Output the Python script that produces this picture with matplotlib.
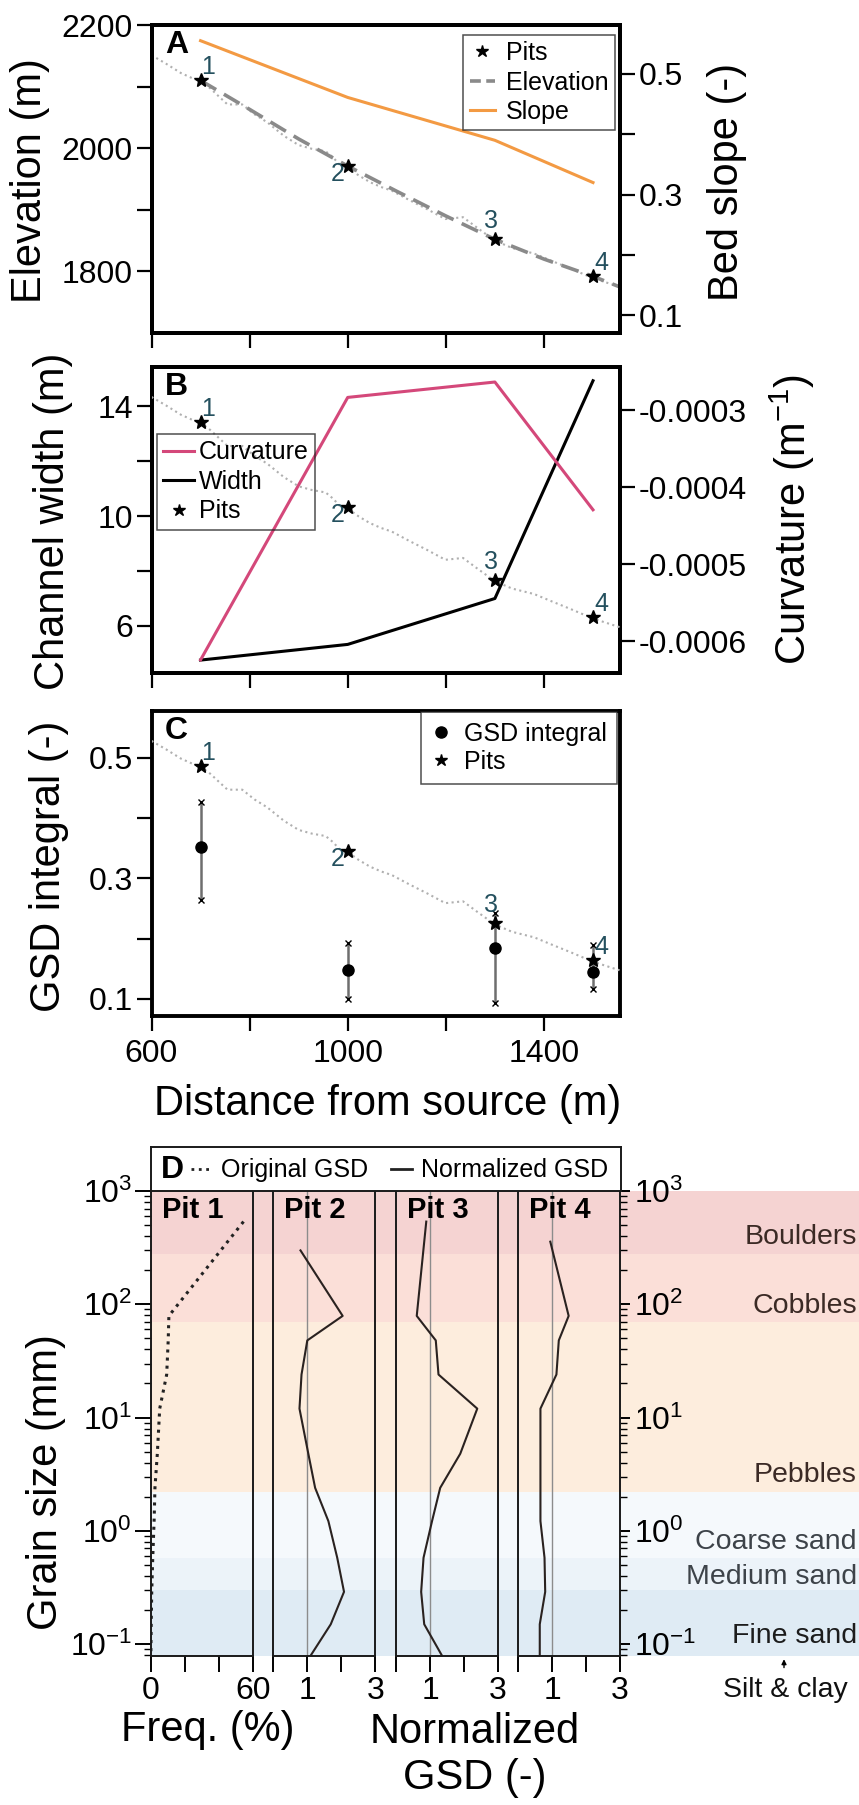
import matplotlib
matplotlib.use("Agg")
import matplotlib.pyplot as plt
from matplotlib.lines import Line2D
from matplotlib.ticker import NullFormatter, LogLocator
import matplotlib.transforms as mtransforms

plt.rcParams['font.family'] = ['Liberation Sans', 'DejaVu Sans']
plt.rcParams['mathtext.default'] = 'regular'
plt.rcParams['axes.unicode_minus'] = False

# ---- data: pits along the channel ----
pit_dist = [700, 1000, 1300, 1500]
pit_elev = [2110, 1971, 1852, 1792]
pit_names = ["1", "2", "3", "4"]

# raw long profile (dotted background line)
profile_dist = [600, 630, 660, 685, 700, 720, 740, 755, 785, 810, 836, 870, 900, 927,
                955, 970, 985, 1000, 1022, 1045, 1068, 1090, 1125, 1162, 1199, 1235,
                1267, 1300, 1335, 1380, 1416, 1453, 1500, 1554]
profile_elev = [2151, 2137, 2122, 2113, 2109, 2097, 2082, 2071, 2071, 2055, 2042, 2020,
                2005, 1999, 1995, 1985, 1972, 1969, 1956, 1945, 1937, 1931, 1916, 1901,
                1885, 1888, 1869, 1850, 1838, 1829, 1817, 1805, 1789, 1775]

# smoothed elevation (dashed)
smooth_dist = [700, 800, 900, 1000, 1100, 1200, 1300, 1400, 1500, 1554]
smooth_elev = [2110, 2063, 2015, 1971, 1930, 1890, 1852, 1820, 1792, 1775]

bed_slope = [0.555, 0.461, 0.390, 0.320]
chan_width = [4.76, 5.33, 7.0, 14.92]
curvature = [-0.000624, -0.000283, -0.000263, -0.000429]

gsd_int = [0.352, 0.148, 0.184, 0.145]
gsd_low = [0.264, 0.100, 0.093, 0.117]
gsd_high = [0.426, 0.192, 0.243, 0.190]

# ---- data: panel D grain size distributions ----
grain_top = [537, 299, 537, 357]
grain_sizes = [79, 48, 24, 12, 4.8, 2.4, 1.22, 0.58, 0.29, 0.15, 0.0795]
freq_pit1 = [54.6, 10.7, 10.3, 9.4, 5.3, 3.9, 2.5, 2.0, 1.2, 0.6, 0.3, 0.1]
norm_pit2 = [0.80, 2.04, 1.00, 0.83, 0.77, 1.03, 1.23, 1.62, 1.88, 2.08, 1.69, 1.10]
norm_pit3 = [0.89, 0.61, 1.17, 1.25, 2.39, 1.89, 1.30, 1.06, 0.81, 0.74, 0.83, 1.35]
norm_pit4 = [0.95, 1.49, 1.20, 1.13, 0.66, 0.66, 0.66, 0.66, 0.78, 0.80, 0.64, 0.64]

class_names = ["Boulders", "Cobbles", "Pebbles", "Coarse sand", "Medium sand", "Fine sand"]
class_bounds = [1000, 280, 70, 2.2, 0.58, 0.3, 0.0795]
class_label_y = [393, 97, 3.1, 0.80, 0.39, 0.118]

# colours
orange = '#f39a43'
pink = '#d4487a'
pit_col = '#24505e'
band_colors = ['#f5d3d2', '#fbdfd8', '#fdeddd', '#f5f9fc', '#ecf3f9', '#dfebf4']
class_text_colors = ['#3b2a25', '#3b2a25', '#3b2a25', '#3d4349', '#3d4349', '#1c1c1c']

W, H = 859.0, 1805.0
fig = plt.figure(figsize=(W / 100, H / 100), dpi=100)


def box(x0, y0, x1, y1):
    # pixel box, origin top left -> figure fraction
    return [x0 / W, 1 - y1 / H, (x1 - x0) / W, (y1 - y0) / H]


def style(ax):
    for s in ax.spines.values():
        s.set_linewidth(2.8)
    ax.tick_params(which='both', direction='out', length=10.5, width=1.6,
                   labelsize=23, pad=3)


label_offsets = [(8, 13), (-10, -8), (-4, 18), (8, 13)]


def add_pits(ax):
    ax.plot(pit_dist, pit_elev, ls='none', marker='*', ms=10, color='black', zorder=5)
    for d, e, n, off in zip(pit_dist, pit_elev, pit_names, label_offsets):
        ax.annotate(n, (d, e), xytext=off, textcoords='offset pixels',
                    ha='center', va='center', fontsize=18, color=pit_col)


xlim = (600, 1554)

# ---------------- panel A ----------------
axA = fig.add_axes(box(151.5, 25, 619.5, 333))
axA.plot(profile_dist, profile_elev, ls=':', color='#b0b0b0', lw=1.5)
axA.plot(smooth_dist, smooth_elev, color='#8a8a8a', lw=2.6, dashes=(5, 2.5))
add_pits(axA)
axA.set_xlim(*xlim)
axA.set_ylim(1700, 2200)
axA.set_yticks([1800, 2000, 2200])
axA.set_yticks([1900, 2100], minor=True)
axA.set_xticks([600, 1000, 1400])
axA.set_xticks([800, 1200], minor=True)
style(axA)
axA.tick_params(axis='x', labelbottom=False)

axA2 = axA.twinx()
axA2.plot(pit_dist, bed_slope, color=orange, lw=2.2)
axA2.set_ylim(0.0708, 0.581)
axA2.set_yticks([0.1, 0.3, 0.5])
axA2.set_yticks([0.2, 0.4], minor=True)
style(axA2)
axA.text(0.029, 0.935, "A", transform=axA.transAxes, fontsize=23,
         fontweight='bold', ha='left', va='center')
hA = [Line2D([], [], ls='none', marker='*', ms=9, color='black'),
      Line2D([], [], color='#8a8a8a', lw=2.6, dashes=(3, 1.5)),
      Line2D([], [], color=orange, lw=2.2)]
legA = axA2.legend(hA, ["Pits", "Elevation", "Slope"], loc='upper right',
                   bbox_to_anchor=(0.990, 0.968), fontsize=18, frameon=True,
                   fancybox=False, edgecolor='#222222', borderpad=0.25,
                   labelspacing=0.22, handlelength=1.0, handletextpad=0.45,
                   borderaxespad=0)
legA.get_frame().set_linewidth(1.1)

# ---------------- panel B ----------------
axB = fig.add_axes(box(151.5, 367, 619.5, 673))
axB.plot(pit_dist, chan_width, color='black', lw=2.2)
axB.set_xlim(*xlim)
axB.set_ylim(4.29, 15.42)
axB.set_yticks([6, 10, 14])
axB.set_yticks([8, 12], minor=True)
axB.set_xticks([600, 1000, 1400])
axB.set_xticks([800, 1200], minor=True)
style(axB)
axB.tick_params(axis='x', labelbottom=False)

axB2 = axB.twinx()
axB2.plot(pit_dist, curvature, color=pink, lw=2.2)
axB2.set_ylim(-0.000641, -0.0002435)
curv_ticks = [-0.0006, -0.0005, -0.0004, -0.0003]
axB2.set_yticks(curv_ticks)
axB2.set_yticklabels([f"{v:.4f}" for v in curv_ticks])
style(axB2)

axB3 = axB.twinx()
axB3.plot(profile_dist, profile_elev, ls=':', color='#b0b0b0', lw=1.5)
add_pits(axB3)
axB3.set_ylim(1700, 2200)
axB3.axis('off')
axB.text(0.029, 0.935, "B", transform=axB.transAxes, fontsize=23,
         fontweight='bold', ha='left', va='center')
hB = [Line2D([], [], color=pink, lw=2.2),
      Line2D([], [], color='black', lw=2.2),
      Line2D([], [], ls='none', marker='*', ms=9, color='black')]
legB = axB3.legend(hB, ["Curvature", "Width", "Pits"], loc='upper left',
                   bbox_to_anchor=(0.011, 0.781), fontsize=18, frameon=True,
                   fancybox=False, edgecolor='#222222', borderpad=0.25,
                   labelspacing=0.22, handlelength=1.25, handletextpad=0.2,
                   borderaxespad=0)
legB.get_frame().set_linewidth(1.1)
legB.get_frame().set_facecolor('none')

# ---------------- panel C ----------------
axC = fig.add_axes(box(151.5, 711, 619.5, 1016))
axC.vlines(pit_dist, gsd_low, gsd_high, color='#6e6e6e', lw=1.8)
axC.plot(pit_dist, gsd_low, ls='none', marker='x', ms=4, mew=1, color='black')
axC.plot(pit_dist, gsd_high, ls='none', marker='x', ms=4, mew=1, color='black')
axC.plot(pit_dist, gsd_int, ls='none', marker='o', ms=8, color='black')
axC.set_xlim(*xlim)
axC.set_ylim(0.0718, 0.5774)
axC.set_yticks([0.1, 0.3, 0.5])
axC.set_yticks([0.2, 0.4], minor=True)
axC.set_xticks([600, 1000, 1400])
axC.set_xticks([800, 1200], minor=True)
style(axC)
axC.tick_params(axis='x', pad=6)

axC2 = axC.twinx()
axC2.plot(profile_dist, profile_elev, ls=':', color='#b0b0b0', lw=1.5)
add_pits(axC2)
axC2.set_ylim(1700, 2200)
axC2.axis('off')
axC.text(0.029, 0.935, "C", transform=axC.transAxes, fontsize=23,
         fontweight='bold', ha='left', va='center')
hC = [Line2D([], [], ls='none', marker='o', ms=8, color='black'),
      Line2D([], [], ls='none', marker='*', ms=9, color='black')]
legC = axC2.legend(hC, ["GSD integral", "Pits"], loc='upper right',
                   bbox_to_anchor=(0.994, 0.997), fontsize=18, frameon=True,
                   fancybox=False, edgecolor='#222222', borderpad=0.4,
                   labelspacing=0.15, handlelength=0.8, handletextpad=0.5,
                   borderaxespad=0)
legC.get_frame().set_linewidth(1.1)

# ---------------- panel D ----------------
ytop, ybot = 1191, 1655.5
ylimD = (0.0795, 1000)

# grain class background bands
axBand = fig.add_axes(box(150.7, ytop, 859, ybot))
axBand.set_yscale('log')
axBand.set_ylim(*ylimD)
axBand.set_xlim(0, 1)
for i in range(len(class_names)):
    axBand.axhspan(class_bounds[i + 1], class_bounds[i], color=band_colors[i], lw=0)
trans = mtransforms.blended_transform_factory(axBand.transAxes, axBand.transData)
for name, yv, c in zip(class_names, class_label_y, class_text_colors):
    axBand.text(0.997, yv, name, transform=trans, ha='right', va='center',
                fontsize=20.5, color=c)
axBand.axis('off')
arrow_x = (784 - 150.7) / (859 - 150.7)
axBand.annotate('', xy=(arrow_x, -0.002), xycoords='axes fraction',
                xytext=(arrow_x, -0.032), textcoords='axes fraction',
                arrowprops=dict(arrowstyle='-|>', lw=1, color='black',
                                mutation_scale=7), annotation_clip=False)
fig.text(785 / W, 1 - 1690 / H, "Silt & clay", ha='center', va='center',
         fontsize=20.5, color='#111111')

pit_lefts = [150.7, 273.3, 396.0, 518.0]
pit_series = [freq_pit1, norm_pit2, norm_pit3, norm_pit4]
for k, left in enumerate(pit_lefts):
    ax = fig.add_axes(box(left, ytop, left + 102, ybot))
    ax.set_facecolor('none')
    ax.set_yscale('log')
    ax.set_ylim(*ylimD)
    sizes = [grain_top[k]] + grain_sizes
    if k == 0:
        ax.plot(pit_series[k], sizes, color='#222222', ls=':', lw=2.2)
        ax.set_xlim(0, 60)
        ax.set_xticks([0, 20, 40, 60])
        ax.set_xticklabels(['0', '', '', '60'])
    else:
        ax.axvline(1, color='#8c8c8c', lw=1)
        ax.plot(pit_series[k], sizes, color='#2a2220', lw=1.5)
        ax.set_xlim(0, 3)
        ax.set_xticks([0, 1, 2, 3])
        ax.set_xticklabels(['', '1', '', '3'])
    for s in ax.spines.values():
        s.set_linewidth(1.4)
        s.set_color('#1a1a1a')
    ax.spines['top'].set_visible(False)
    ax.tick_params(axis='x', direction='out', length=11.5, width=1.4,
                   labelsize=23, pad=3)
    ax.yaxis.set_major_locator(LogLocator(base=10, numticks=10))
    ax.yaxis.set_minor_locator(LogLocator(base=10, subs=range(2, 10), numticks=20))
    ax.yaxis.set_minor_formatter(NullFormatter())
    if k == 0:
        ax.tick_params(axis='y', which='major', direction='out', length=11.5,
                       width=1.4, labelsize=23, pad=2)
        ax.tick_params(axis='y', which='minor', direction='out', length=5, width=1.0)
    elif k == 3:
        ax.tick_params(axis='y', which='both', left=False, right=True,
                       labelleft=False, labelright=True)
        ax.tick_params(axis='y', which='major', direction='out', length=7,
                       width=1.4, labelsize=23, pad=3)
        ax.tick_params(axis='y', which='minor', direction='out', length=5, width=1.0)
    else:
        ax.tick_params(axis='y', which='both', left=False, labelleft=False)
    ax.text(0.108, 0.959, f"Pit {k + 1}", transform=ax.transAxes, fontsize=21,
            fontweight='bold', ha='left', va='center')

# legend box of panel D
axLeg = fig.add_axes(box(150.7, 1147, 620.7, ytop))
axLeg.set_xticks([])
axLeg.set_yticks([])
for s in axLeg.spines.values():
    s.set_linewidth(1.4)
    s.set_color('#1a1a1a')
axLeg.text(0.022, 0.47, "D", transform=axLeg.transAxes, fontsize=23,
           fontweight='bold', ha='left', va='center')
hD = [Line2D([], [], color='#222222', ls=':', lw=2),
      Line2D([], [], color='#222222', lw=2)]
axLeg.legend(hD, ["Original GSD", "Normalized GSD"], loc='center left',
             bbox_to_anchor=(0.086, 0.47), ncol=2, frameon=False, fontsize=18,
             borderpad=0, handlelength=0.85, handletextpad=0.35,
             columnspacing=0.9, borderaxespad=0)

# ---------------- axis labels ----------------
lab = 30
fig.text(30 / W, 1 - 181 / H, "Elevation (m)", rotation=90, ha='center', va='center', fontsize=lab)
fig.text(53 / W, 1 - 521 / H, "Channel width (m)", rotation=90, ha='center', va='center', fontsize=lab)
fig.text(49 / W, 1 - 866 / H, "GSD integral (-)", rotation=90, ha='center', va='center', fontsize=lab)
fig.text(46 / W, 1 - 1482 / H, "Grain size (mm)", rotation=90, ha='center', va='center', fontsize=lab)
fig.text(727 / W, 1 - 182 / H, "Bed slope (-)", rotation=90, ha='center', va='center', fontsize=lab)
fig.text(792 / W, 1 - 520 / H, "Curvature (m$^{-1}$)", rotation=90, ha='center', va='center', fontsize=lab)
fig.text(388 / W, 1 - 1104 / H, "Distance from source (m)", ha='center', va='center', fontsize=lab)
fig.text(208 / W, 1 - 1730 / H, "Freq. (%)", ha='center', va='center', fontsize=lab)
fig.text(475 / W, 1 - 1755 / H, "Normalized\nGSD (-)", ha='center', va='center',
         multialignment='center', fontsize=lab)

fig.savefig("out.png", dpi=100)
